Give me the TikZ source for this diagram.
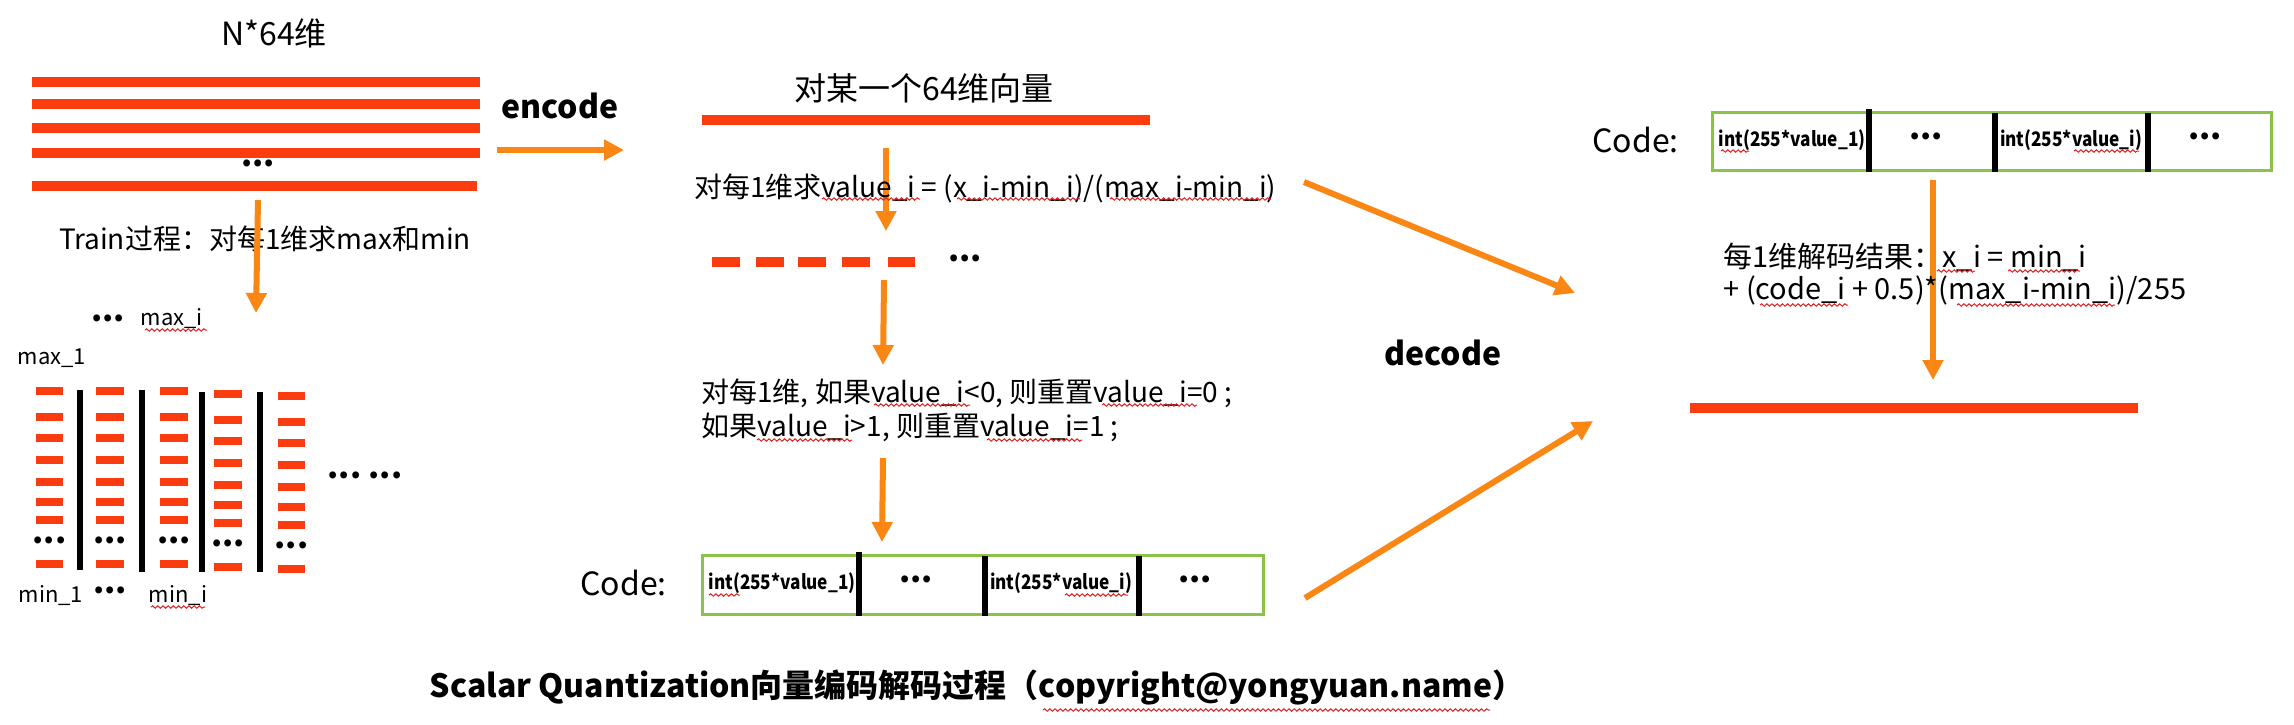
\documentclass[tikz,border=0pt]{standalone}
\usepackage{fontspec}
\setmainfont{Noto Sans CJK SC}
\usetikzlibrary{arrows.meta,decorations.pathmorphing}
\definecolor{barred}{HTML}{FB3C0E}
\definecolor{arrowor}{HTML}{FA8614}
\definecolor{boxgreen}{HTML}{8BC34A}
\definecolor{squig}{HTML}{E02020}
\newcommand{\celltext}[1]{\scalebox{0.86}[1]{#1}}
\begin{document}
\begin{tikzpicture}[x=0.5pt,y=-0.5pt,
  flow/.style={draw=arrowor, line width=3pt, -{Triangle[length=10pt,width=10pt]}},
  txt/.style={inner sep=0pt, font=\fontsize{14pt}{17pt}\selectfont},
  big/.style={inner sep=0pt, font=\fontsize{16pt}{19pt}\selectfont},
  small/.style={inner sep=0pt, font=\fontsize{11pt}{13pt}\selectfont},
  bold/.style={inner sep=0pt, font=\fontsize{16pt}{19pt}\selectfont\bfseries},
  cell/.style={inner sep=0pt, font=\fontsize{10pt}{12pt}\selectfont\bfseries},
  dots/.style={inner sep=0pt, font=\fontsize{16pt}{18pt}\selectfont\bfseries},
  codebox/.style={draw=boxgreen, line width=1.7pt, fill=none},
  divider/.style={draw=black, line width=3pt},
  colsep/.style={draw=black, line width=3pt},
  sq/.style={draw=squig, line width=0.5pt, decorate, decoration={snake, amplitude=0.6pt, segment length=2.6pt}}
]
\useasboundingbox[fill=white] (0,0) rectangle (2294,724);

% ---------- left: N*64 matrix ----------
\node[big] (title1) at (274,33) {N*64维};
\foreach \yy in {82,104,128,153}{
  \fill[barred] (32,\yy-5) rectangle (480,\yy+5);
}
\fill[barred] (32,181) rectangle (477,191);
\node[dots] (mdots) at (258,163) {...};

\node[bold] (enc) at (560,106) {encode};
\coordinate (encS) at (497,150);
\coordinate (encE) at (624,150);
\draw[flow] (encS) -- (encE);

\node[txt] (train) at (265,239) {Train过程：对每1维求max和min};
\coordinate (trS) at (258,200);
\coordinate (trE) at (256,313);
\draw[flow] (trS) -- (trE);

% ---------- columns ----------
\node[dots] (topdots) at (108,318) {...};
\node[small] (maxi) at (172,319) {max\_i};
\node[small] (max1) at (52,358) {max\_1};
\foreach \xa/\xb/\off in {36/63/0, 96/124/0, 160/188/0, 214/242/3, 278/305/5}{
  \foreach \yy in {391,417,438,460,482,502,520,564}{
    \fill[barred] (\xa,\yy+\off-4) rectangle (\xb,\yy+\off+4);
  }
  \node[dots] at ({(\xa+\xb)/2},540+\off) {...};
}
\draw[colsep] (80,390) -- (80,570);
\draw[colsep] (142,390) -- (142,572);
\draw[colsep] (202,392) -- (202,572);
\draw[colsep] (260,392) -- (260,572);
\node[dots] (coldots) at (365,475) {...\ ...};
\node[small] (min1) at (51,596) {min\_1};
\node[dots] (botdots) at (110,590) {...};
\node[small] (mini) at (178,596) {min\_i};
\draw[sq] (145,330) -- (207,330);
\draw[sq] (151,607) -- (205,607);

% ---------- middle: encode steps ----------
\node[big] (vec) at (924,88) {对某一个64维向量};
\fill[barred] (702,115) rectangle (1150,125);
\coordinate (a1S) at (886,148);
\coordinate (a1E) at (886,231);
\draw[flow] (a1S) -- (a1E);
\node[txt, anchor=west] (norm) at (694,188) {对每1维求value\_i = (x\_i-min\_i)/(max\_i-min\_i)};
\draw[sq] (822,199) -- (920,199);
\draw[sq] (957,199) -- (1080,199);
\draw[sq] (1110,199) -- (1271,199);
\foreach \xa/\xb in {712/740, 756/784, 798/826, 842/870, 888/915}{
  \fill[barred] (\xa,257) rectangle (\xb,267);
}
\node[dots] (dashdots) at (965,258) {...};
\coordinate (a2S) at (884,280);
\coordinate (a2E) at (883,365);
\draw[flow] (a2S) -- (a2E);
\node[txt, anchor=west] (clip1) at (701,393) {对每1维, 如果value\_i<0, 则重置value\_i=0 ;};
\node[txt, anchor=west] (clip2) at (701,427) {如果value\_i>1, 则重置value\_i=1 ;};
\draw[sq] (874,405) -- (970,405);
\draw[sq] (1102,405) -- (1197,405);
\draw[sq] (757,440) -- (852,440);
\draw[sq] (987,440) -- (1082,440);
\coordinate (a3S) at (883,458);
\coordinate (a3E) at (882,542);
\draw[flow] (a3S) -- (a3E);

% code box (encode result)
\node[codebox, minimum width=280.5pt, minimum height=29.5pt, anchor=north west] (box1) at (701,554) {};
\draw[divider] (859,552) -- (859,616);
\draw[divider] (985,556) -- (985,616);
\draw[divider] (1139,556) -- (1139,616);
\node[txt, anchor=west, font=\fontsize{16pt}{19pt}\selectfont] (code1) at (580,583) {Code:};
\node[cell] (c11) at (782,583) {\celltext{int(255*value\_1)}};
\node[dots] (c12) at (916,579) {...};
\node[cell] (c13) at (1061,583) {\celltext{int(255*value\_i)}};
\node[dots] (c14) at (1195,579) {...};
\draw[sq] (709,595) -- (740,595);
\draw[sq] (1065,595) -- (1128,595);

% ---------- decode ----------
\coordinate (d1S) at (1304,182);
\coordinate (d1E) at (1575,293);
\draw[flow] (d1S) -- (d1E);
\coordinate (d2S) at (1305,598);
\coordinate (d2E) at (1593,421);
\draw[flow] (d2S) -- (d2E);
\node[bold] (dec) at (1443,353) {decode};

\node[codebox, minimum width=279.5pt, minimum height=29pt, anchor=north west] (box2) at (1711,111) {};
\draw[divider] (1869,109) -- (1869,172);
\draw[divider] (1995,113) -- (1995,172);
\draw[divider] (2148,113) -- (2148,172);
\node[txt, anchor=west, font=\fontsize{16pt}{19pt}\selectfont] (code2) at (1592,140) {Code:};
\node[cell] (c21) at (1792,140) {\celltext{int(255*value\_1)}};
\node[dots] (c22) at (1926,136) {...};
\node[cell] (c23) at (2071,140) {\celltext{int(255*value\_i)}};
\node[dots] (c24) at (2205,136) {...};
\draw[sq] (1721,151) -- (1749,151);
\draw[sq] (2074,151) -- (2139,151);

\coordinate (rS) at (1933,180);
\coordinate (rE) at (1933,380);
\draw[flow] (rS) -- (rE);
\node[txt, anchor=west, font=\fontsize{14.5pt}{17pt}\selectfont] (dec1) at (1723,257) {每1维解码结果：x\_i = min\_i};
\node[txt, anchor=west, font=\fontsize{14.5pt}{17pt}\selectfont] (dec2) at (1723,290) {+ (code\_i + 0.5)*(max\_i-min\_i)/255};
\draw[sq] (1937,271) -- (1975,271);
\draw[sq] (2008,271) -- (2080,271);
\draw[sq] (1760,305) -- (1848,305);
\draw[sq] (1957,305) -- (2115,305);
\fill[barred] (1690,403) rectangle (2138,413);

% ---------- caption ----------
\node[inner sep=0pt, font=\fontsize{16pt}{19pt}\selectfont\bfseries] (cap) at (977,687) {Scalar Quantization向量编码解码过程（copyright@yongyuan.name）};
\draw[sq] (1043,710) -- (1490,710);
\end{tikzpicture}
\end{document}
